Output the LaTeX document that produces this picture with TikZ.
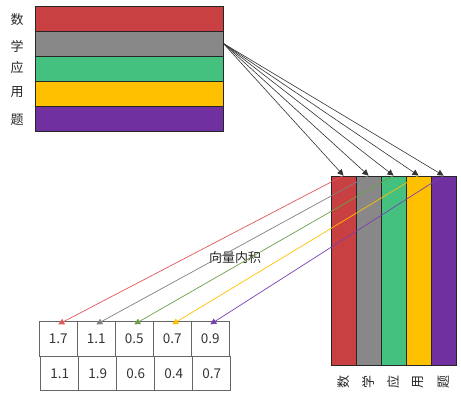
\documentclass[tikz,border=0pt]{standalone}
\usepackage{fontspec}
\setmainfont{Noto Sans CJK SC}
\usetikzlibrary{arrows.meta}
\definecolor{shuRed}{HTML}{C94042}
\definecolor{shuGray}{HTML}{888888}
\definecolor{shuGreen}{HTML}{44C17F}
\definecolor{shuYellow}{HTML}{FFC000}
\definecolor{shuPurple}{HTML}{7030A0}
\definecolor{lnRed}{HTML}{E0575B}
\definecolor{lnGray}{HTML}{808080}
\definecolor{lnGreen}{HTML}{6D9E48}
\definecolor{lnYellow}{HTML}{FFC000}
\definecolor{lnPurple}{HTML}{7A3FB0}
\tikzset{
	band/.style={draw=black!85, line width=0.9pt, inner sep=0pt, minimum width=188pt, minimum height=25pt},
	bar/.style={draw=black!85, line width=0.9pt, inner sep=0pt, minimum width=25pt, minimum height=189pt},
	cell/.style={draw=black!60, line width=0.8pt, inner sep=0pt, minimum width=38pt, minimum height=34.5pt, text=black!80, font=\fontsize{13.5}{15}\selectfont},
	lbl/.style={font=\fontsize{13}{15}\selectfont, text=black!85},
	proj/.style={draw=black!80, line width=0.6pt, -{Triangle[width=6pt,length=6pt]}},
	dot/.style={line width=0.7pt, -{Triangle[width=6pt,length=6pt]}}
}
\begin{document}
\begin{tikzpicture}[x=1pt,y=-1pt]
\useasboundingbox (0,0) rectangle (461,400);
\path (129,18.5) node[band, fill=shuRed] (rShu) {}
		(129,43.5) node[band, fill=shuGray] (rXue) {}
		(129,68.5) node[band, fill=shuGreen] (rYing) {}
		(129,93.5) node[band, fill=shuYellow] (rYong) {}
		(129,119) node[band, fill=shuPurple] (rTi) {}
		(17,20) node[lbl] (tShu) {数}
		(17,46) node[lbl] (tXue) {学}
		(17,68) node[lbl] (tYing) {应}
		(17,92) node[lbl] (tYong) {用}
		(17,120) node[lbl] (tTi) {题}
		(343.5,270.5) node[bar, fill=shuRed] (cShu) {}
		(368.5,270.5) node[bar, fill=shuGray] (cXue) {}
		(393.5,270.5) node[bar, fill=shuGreen] (cYing) {}
		(418.5,270.5) node[bar, fill=shuYellow] (cYong) {}
		(443.5,270.5) node[bar, fill=shuPurple] (cTi) {}
		(343.5,382) node[lbl, rotate=90] (bShu) {数}
		(368.5,382) node[lbl, rotate=90] (bXue) {学}
		(393.5,382) node[lbl, rotate=90] (bYing) {应}
		(418.5,382) node[lbl, rotate=90] (bYong) {用}
		(443.5,382) node[lbl, rotate=90] (bTi) {题}
		(58.3,339) node[cell] (a1) {1.7}
		(96.3,339) node[cell] (a2) {1.1}
		(134.3,339) node[cell] (a3) {0.5}
		(172.3,339) node[cell] (a4) {0.7}
		(210.3,339) node[cell] (a5) {0.9}
		(59.7,373.5) node[cell] (b1) {1.1}
		(97.7,373.5) node[cell] (b2) {1.9}
		(135.7,373.5) node[cell] (b3) {0.6}
		(173.7,373.5) node[cell] (b4) {0.4}
		(211.7,373.5) node[cell] (b5) {0.7}
		(235,258) node[lbl] (inner) {向量内积};
\draw[proj] (rXue.east) -- (cShu.north);
\draw[proj] (rXue.east) -- (cXue.north);
\draw[proj] (rXue.east) -- (cYing.north);
\draw[proj] (rXue.east) -- (cYong.north);
\draw[proj] (rXue.east) -- (cTi.north);
\draw[dot, lnRed] (cShu.north) -- ([yshift=-3pt]a1.north);
\draw[dot, lnGray] (cXue.north) -- ([yshift=-3pt]a2.north);
\draw[dot, lnGreen] (cYing.north) -- ([yshift=-3pt]a3.north);
\draw[dot, lnYellow] (cYong.north) -- ([yshift=-3pt]a4.north);
\draw[dot, lnPurple] (cTi.north) -- ([yshift=-3pt]a5.north);
\end{tikzpicture}
\end{document}
